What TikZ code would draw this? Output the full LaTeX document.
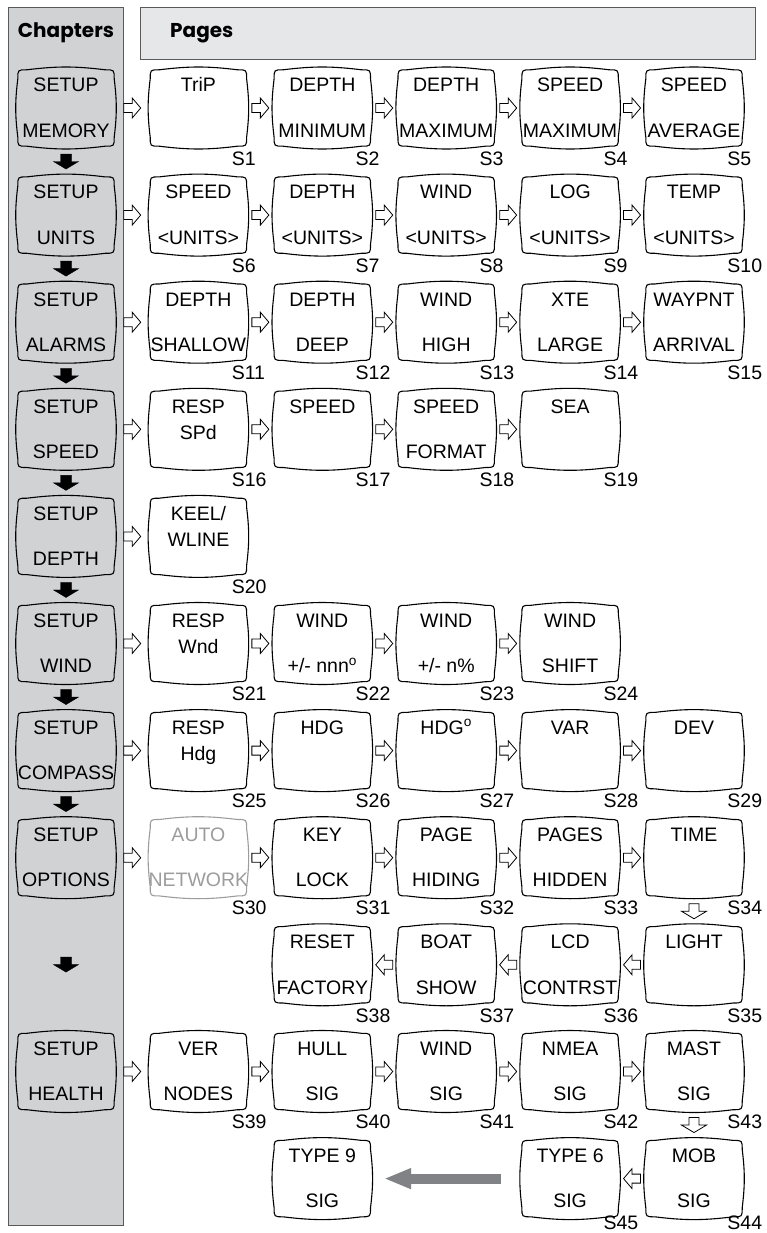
\documentclass[tikz,border=0pt]{standalone}
\usepackage{fontspec}
\setmainfont{Liberation Sans}
\newfontfamily\headfont{Poppins}
\usetikzlibrary{arrows.meta, positioning, calc}
\definecolor{cpanel}{HTML}{D1D2D4}
\definecolor{chead}{HTML}{E6E7E8}
\definecolor{cedge}{HTML}{58595B}
\definecolor{cfaint}{HTML}{9C9C9C}
\definecolor{cbig}{HTML}{808285}
\tikzset{
  screen/.style={minimum width=96pt, minimum height=76pt, inner sep=0pt,
    append after command={\pgfextra{\edef\scrname{\tikzlastnode}%
      \draw[line width=1.1pt, #1]
        ([yshift=-9pt]\scrname.north west) .. controls (\scrname.north west) .. ([xshift=9pt]\scrname.north west)
        to[bend left=7] ([xshift=-9pt]\scrname.north east)
        .. controls (\scrname.north east) .. ([yshift=-9pt]\scrname.north east)
        to[bend left=7] ([yshift=9pt]\scrname.south east)
        .. controls (\scrname.south east) .. ([xshift=-9pt]\scrname.south east)
        to[bend left=7] ([xshift=9pt]\scrname.south west)
        .. controls (\scrname.south west) .. ([yshift=9pt]\scrname.south west)
        to[bend left=7] ([yshift=-9pt]\scrname.north west) -- cycle;}}},
  screen/.default=black,
  every label/.style={inner sep=0pt},
  l1/.style={label={[anchor=base, yshift=-22pt]north:#1}},
  l2/.style={label={[anchor=base, yshift=-48pt]north:#1}},
  l3/.style={label={[anchor=base, yshift=9pt]south:#1}},
  pg/.style={label={[anchor=base west, xshift=-15pt, yshift=-19pt]south east:#1}},
  pglow/.style={label={[anchor=base west, xshift=-15pt, yshift=-12.5pt]south east:#1}},
  title/.style={font=\headfont\bfseries\fontsize{20}{24}\selectfont, inner sep=0pt},
  hollow/.style={draw, fill=white, line width=0.8pt},
  harR/.style={hollow, to path={($(\tikztostart)!0.5!(\tikztotarget)$)
    +(-8.5,-4.5) -- +(0,-4.5) -- +(0,-10) -- +(8.5,0) -- +(0,10) -- +(0,4.5) -- +(-8.5,4.5) -- cycle}},
  harL/.style={hollow, to path={($(\tikztostart)!0.5!(\tikztotarget)$)
    +(8.5,-4.5) -- +(0,-4.5) -- +(0,-10) -- +(-8.5,0) -- +(0,10) -- +(0,4.5) -- +(8.5,4.5) -- cycle}},
  harD/.style={hollow, to path={($(\tikztostart)!0.5!(\tikztotarget)$)
    +(-5,-7.5) -- +(-5,0) -- +(-12.5,0) -- +(0,7.5) -- +(12.5,0) -- +(5,0) -- +(5,-7.5) -- cycle}},
  blkD/.style={fill=black, to path={($(\tikztostart)!0.5!(\tikztotarget)$)
    +(-5.5,-7.5) -- +(-5.5,0) -- +(-12.5,0) -- +(0,7.5) -- +(12.5,0) -- +(5.5,0) -- +(5.5,-7.5) -- cycle}},
  bigarr/.style={draw=cbig, line width=10pt, -{Triangle[length=27pt, width=19pt]},
    shorten <=20.5pt, shorten >=13.5pt},
}
\begin{document}
\begin{tikzpicture}[x=1pt, y=-1pt, node distance=30.7pt and 27.5pt,
  font=\fontsize{19.5}{23}\selectfont]
  \useasboundingbox (0,0) rectangle (766,1233);
  % panels
  \draw[cedge, fill=cpanel, line width=0.8pt] (8,7) rectangle (123,1225);
  \draw[cedge, fill=chead, line width=0.8pt] (140,7) rectangle (755,59);
  \node[title, anchor=base] (chap) at (66,38) {Chapters};
  \node[title, anchor=base west] (pages) at (170,38) {Pages};

  % chapters
  \node[screen, l1=SETUP, l3=MEMORY] (mem) at (66,108) {};
  \node[screen, below=of mem, l1=SETUP, l3=UNITS] (uni) {};
  \node[screen, below=of uni, l1=SETUP, l3=ALARMS] (ala) {};
  \node[screen, below=of ala, l1=SETUP, l3=SPEED] (spd) {};
  \node[screen, below=of spd, l1=SETUP, l3=DEPTH] (dep) {};
  \node[screen, below=of dep, l1=SETUP, l3=WIND] (wnd) {};
  \node[screen, below=of wnd, l1=SETUP, l3=COMPASS] (cmp) {};
  \node[screen, below=of cmp, l1=SETUP, l3=OPTIONS] (opt) {};
  \node[screen, below=137.4pt of opt, l1=SETUP, l3=HEALTH] (hlt) {};

  % memory
  \node[screen, right=36pt of mem, l1=TriP, pg=S1] (s1) {};
  \node[screen, right=of s1, l1=DEPTH, l3=MINIMUM, pg=S2] (s2) {};
  \node[screen, right=of s2, l1=DEPTH, l3=MAXIMUM, pg=S3] (s3) {};
  \node[screen, right=of s3, l1=SPEED, l3=MAXIMUM, pg=S4] (s4) {};
  \node[screen, right=of s4, l1=SPEED, l3=AVERAGE, pg=S5] (s5) {};
  % units
  \node[screen, right=36pt of uni, l1=SPEED, l3=<UNITS>, pg=S6] (s6) {};
  \node[screen, right=of s6, l1=DEPTH, l3=<UNITS>, pg=S7] (s7) {};
  \node[screen, right=of s7, l1=WIND, l3=<UNITS>, pg=S8] (s8) {};
  \node[screen, right=of s8, l1=LOG, l3=<UNITS>, pg=S9] (s9) {};
  \node[screen, right=of s9, l1=TEMP, l3=<UNITS>, pg=S10] (s10) {};
  % alarms
  \node[screen, right=36pt of ala, l1=DEPTH, l3=SHALLOW, pg=S11] (s11) {};
  \node[screen, right=of s11, l1=DEPTH, l3=DEEP, pg=S12] (s12) {};
  \node[screen, right=of s12, l1=WIND, l3=HIGH, pg=S13] (s13) {};
  \node[screen, right=of s13, l1=XTE, l3=LARGE, pg=S14] (s14) {};
  \node[screen, right=of s14, l1=WAYPNT, l3=ARRIVAL, pg=S15] (s15) {};
  % speed
  \node[screen, right=36pt of spd, l1=RESP, l2=SPd, pg=S16] (s16) {};
  \node[screen, right=of s16, l1=SPEED, pg=S17] (s17) {};
  \node[screen, right=of s17, l1=SPEED, l3=FORMAT, pg=S18] (s18) {};
  \node[screen, right=of s18, l1=SEA, pg=S19] (s19) {};
  % depth
  \node[screen, right=36pt of dep, l1=KEEL/, l2=WLINE, pg=S20] (s20) {};
  % wind
  \node[screen, right=36pt of wnd, l1=RESP, l2=Wnd, pg=S21] (s21) {};
  \node[screen, right=of s21, l1=WIND, l3={+/- nnn\textsuperscript{o}}, pg=S22] (s22) {};
  \node[screen, right=of s22, l1=WIND, l3={+/- n\%}, pg=S23] (s23) {};
  \node[screen, right=of s23, l1=WIND, l3=SHIFT, pg=S24] (s24) {};
  % compass
  \node[screen, right=36pt of cmp, l1=RESP, l2=Hdg, pg=S25] (s25) {};
  \node[screen, right=of s25, l1=HDG, pg=S26] (s26) {};
  \node[screen, right=of s26, l1=HDG\textsuperscript{o}, pg=S27] (s27) {};
  \node[screen, right=of s27, l1=VAR, pg=S28] (s28) {};
  \node[screen, right=of s28, l1=DEV, pg=S29] (s29) {};
  % options
  \node[screen=cfaint, right=36pt of opt,
    label={[anchor=base, yshift=-22pt, text=cfaint]north:AUTO},
    label={[anchor=base, yshift=9pt, text=cfaint]south:NETWORK}, pg=S30] (s30) {};
  \node[screen, right=of s30, l1=KEY, l3=LOCK, pg=S31] (s31) {};
  \node[screen, right=of s31, l1=PAGE, l3=HIDING, pg=S32] (s32) {};
  \node[screen, right=of s32, l1=PAGES, l3=HIDDEN, pg=S33] (s33) {};
  \node[screen, right=of s33, l1=TIME, pg=S34] (s34) {};
  \node[screen, below=of s34, l1=LIGHT, pg=S35] (s35) {};
  \node[screen, left=of s35, l1=LCD, l3=CONTRST, pg=S36] (s36) {};
  \node[screen, left=of s36, l1=BOAT, l3=SHOW, pg=S37] (s37) {};
  \node[screen, left=of s37, l1=RESET, l3=FACTORY, pg=S38] (s38) {};
  % health
  \node[screen, right=36pt of hlt, l1=VER, l3=NODES, pg=S39] (s39) {};
  \node[screen, right=of s39, l1=HULL, l3=SIG, pg=S40] (s40) {};
  \node[screen, right=of s40, l1=WIND, l3=SIG, pg=S41] (s41) {};
  \node[screen, right=of s41, l1=NMEA, l3=SIG, pg=S42] (s42) {};
  \node[screen, right=of s42, l1=MAST, l3=SIG, pg=S43] (s43) {};
  \node[screen, below=of s43, l1=MOB, l3=SIG, pglow=S44] (s44) {};
  \node[screen, left=of s44, l1={TYPE 6}, l3=SIG, pglow=S45] (s45) {};
  \node[screen, below=of s40, l1={TYPE 9}, l3=SIG] (t9) {};

  % chapter order
  \draw[blkD] (mem) to (uni);  \draw[blkD] (uni) to (ala);  \draw[blkD] (ala) to (spd);
  \draw[blkD] (spd) to (dep);  \draw[blkD] (dep) to (wnd);  \draw[blkD] (wnd) to (cmp);
  \draw[blkD] (cmp) to (opt);  \draw[blkD] (opt) to (hlt);

  % page order
  \draw[harR] (mem) to (s1);  \draw[harR] (s1) to (s2);  \draw[harR] (s2) to (s3);
  \draw[harR] (s3) to (s4);  \draw[harR] (s4) to (s5);
  \draw[harR] (uni) to (s6);  \draw[harR] (s6) to (s7);  \draw[harR] (s7) to (s8);
  \draw[harR] (s8) to (s9);  \draw[harR] (s9) to (s10);
  \draw[harR] (ala) to (s11);  \draw[harR] (s11) to (s12);  \draw[harR] (s12) to (s13);
  \draw[harR] (s13) to (s14);  \draw[harR] (s14) to (s15);
  \draw[harR] (spd) to (s16);  \draw[harR] (s16) to (s17);  \draw[harR] (s17) to (s18);
  \draw[harR] (s18) to (s19);
  \draw[harR] (dep) to (s20);
  \draw[harR] (wnd) to (s21);  \draw[harR] (s21) to (s22);  \draw[harR] (s22) to (s23);
  \draw[harR] (s23) to (s24);
  \draw[harR] (cmp) to (s25);  \draw[harR] (s25) to (s26);  \draw[harR] (s26) to (s27);
  \draw[harR] (s27) to (s28);  \draw[harR] (s28) to (s29);
  \draw[harR] (opt) to (s30);  \draw[harR] (s30) to (s31);  \draw[harR] (s31) to (s32);
  \draw[harR] (s32) to (s33);  \draw[harR] (s33) to (s34);
  \draw[harD] (s34) to (s35);
  \draw[harL] (s35) to (s36);  \draw[harL] (s36) to (s37);  \draw[harL] (s37) to (s38);
  \draw[harR] (hlt) to (s39);  \draw[harR] (s39) to (s40);  \draw[harR] (s40) to (s41);
  \draw[harR] (s41) to (s42);  \draw[harR] (s42) to (s43);
  \draw[harD] (s43) to (s44);
  \draw[harL] (s44) to (s45);
  \draw[bigarr] (s45.west) -- (t9.east);
\end{tikzpicture}
\end{document}
